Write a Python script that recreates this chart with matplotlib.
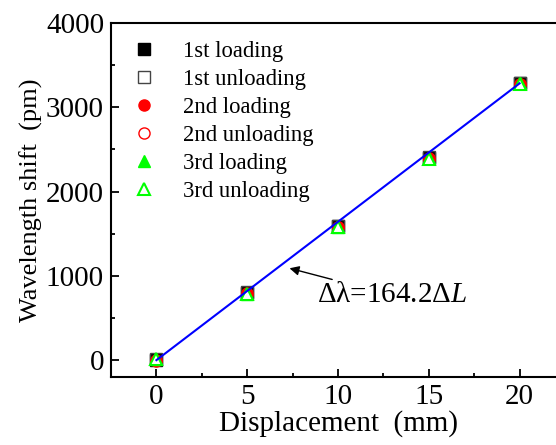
import matplotlib
matplotlib.use("Agg")
import matplotlib.pyplot as plt
from matplotlib.ticker import MultipleLocator

displacement = [0, 5, 10, 15, 20]
load1 = [5, 800, 1590, 2400, 3285]
unload1 = [10, 805, 1595, 2405, 3290]
load2 = [-10, 790, 1580, 2390, 3275]
unload2 = [0, 795, 1585, 2395, 3280]
load3 = [15, 785, 1585, 2395, 3285]
unload3 = [15, 780, 1580, 2390, 3280]
slope = 164.2

plt.rcParams['font.family'] = ['Liberation Serif', 'DejaVu Serif']
plt.rcParams['mathtext.fontset'] = 'custom'
plt.rcParams['mathtext.rm'] = 'Liberation Serif'
plt.rcParams['mathtext.it'] = 'Liberation Serif:italic'

W, H = 556, 445
fig = plt.figure(figsize=(W/100, H/100), dpi=100)
left, right, top, bottom = 111, 565, 23, 377
ax = fig.add_axes([left/W, 1-bottom/H, (right-left)/W, (bottom-top)/H])

fit_x = [displacement[0], displacement[-1]]
fit_y = [slope*v for v in fit_x]
ax.plot(fit_x, fit_y, color='#0000ff', lw=1.5, zorder=4)

ms = 8
ax.plot(displacement, load1, 's', color='black', ms=ms, ls='none', label='1st loading', zorder=2)
ax.plot(displacement, unload1, 's', mfc='none', mec='#444444', ms=ms, ls='none', mew=1, label='1st unloading', zorder=2)
ax.plot(displacement, load2, 'o', color='red', ms=ms, ls='none', label='2nd loading', zorder=2)
ax.plot(displacement, unload2, 'o', mfc='none', mec='red', ms=ms, ls='none', mew=1, label='2nd unloading', zorder=2)
ax.plot(displacement, load3, '^', color='#00ff00', ms=ms+1, ls='none', label='3rd loading', zorder=2)
ax.plot(displacement, unload3, '^', mfc='white', mec='#00ff00', ms=ms+1, ls='none', mew=1.5,
        label='3rd unloading', zorder=3)

ax.set_xlim(-2.5, 22.5)
ax.set_ylim(-200, 4000)
ax.xaxis.set_major_locator(MultipleLocator(5))
ax.xaxis.set_minor_locator(MultipleLocator(2.5))
ax.yaxis.set_major_locator(MultipleLocator(1000))
ax.yaxis.set_minor_locator(MultipleLocator(500))
ax.tick_params(which='both', direction='in', labelsize=21, width=1.3)
ax.tick_params(which='major', length=6, pad=5)
ax.tick_params(which='minor', length=3)
for s in ax.spines.values():
    s.set_linewidth(1.5)

ax.set_xlabel('Displacement  (mm)', fontsize=21, labelpad=0)
ax.set_ylabel('Wavelength shift  (pm)', fontsize=19, labelpad=2)

ax.annotate('Δλ=164.2Δ$\\mathit{L}$', xy=(7.33, 1090), xytext=(8.85, 770),
            fontsize=21, va='center', ha='left',
            arrowprops=dict(arrowstyle='-|>', color='black', lw=1, shrinkA=0, shrinkB=0, mutation_scale=14))

ax.legend(loc='upper left', bbox_to_anchor=(0.0, 0.995), frameon=False, fontsize=16.3,
          handletextpad=1.0, labelspacing=0.31, handlelength=1.5, borderaxespad=0.3)

fig.savefig('out.png', dpi=100)
